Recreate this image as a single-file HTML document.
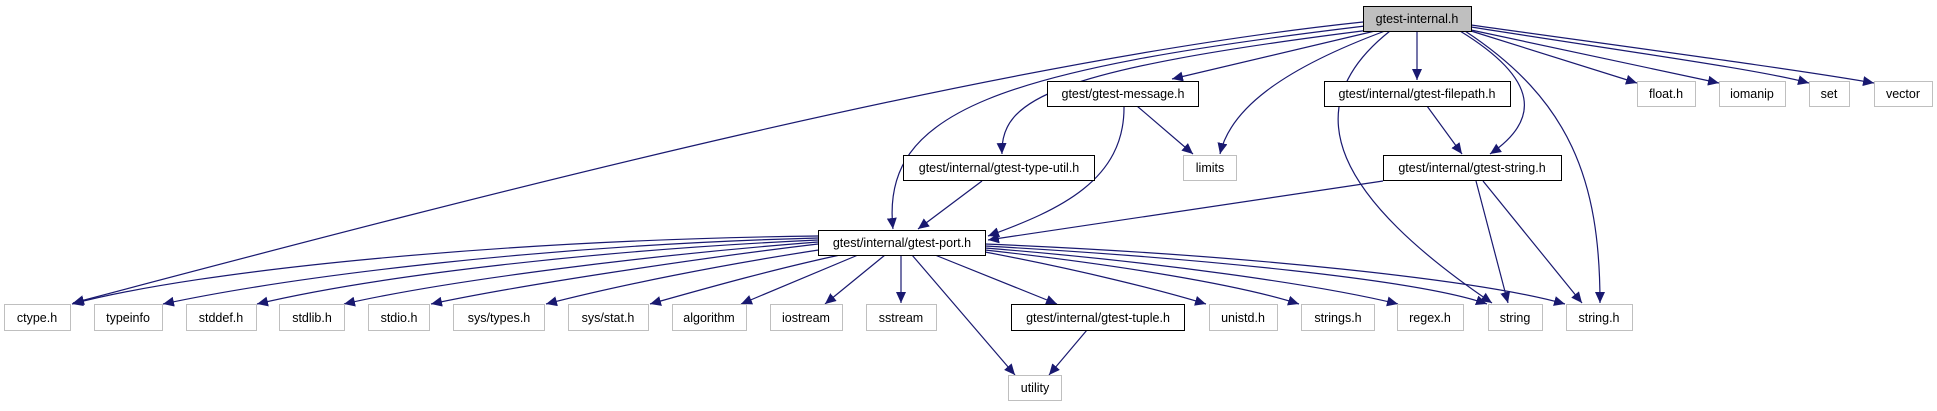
<!DOCTYPE html>
<html><head><meta charset="utf-8"><style>
html,body{margin:0;padding:0;background:#fff;width:1937px;height:411px;overflow:hidden}
text{font-family:"Liberation Sans",sans-serif;font-size:12.5px;fill:#000}
</style></head><body>
<svg width="1937" height="411" viewBox="0 0 1937 411" xmlns="http://www.w3.org/2000/svg">
<defs><marker id="a" markerUnits="userSpaceOnUse" markerWidth="12" markerHeight="10" refX="11" refY="5" orient="auto"><path d="M0,0 L11,5 L0,10 z" fill="#191970"/></marker></defs>
<g fill="none" stroke="#191970" stroke-width="1.2" marker-end="url(#a)">
<path d="M1363,22 C1000,60 500,190 73,303"/>
<path d="M1365,26 C1000,70 880,110 893,229"/>
<path d="M1370,30 C1050,70 1000,100 1002,154"/>
<path d="M1375,31 L1172,79"/>
<path d="M1385,31 C1280,70 1230,110 1220,154"/>
<path d="M1390,31 C1290,110 1340,200 1492,303"/>
<path d="M1417,31 L1417,80"/>
<path d="M1460,31 C1540,80 1540,120 1490,154"/>
<path d="M1465,31 C1570,100 1600,180 1600,303"/>
<path d="M1471,31 L1637,83"/>
<path d="M1471,30 L1719,83"/>
<path d="M1471,27 C1650,55 1760,70 1809,83"/>
<path d="M1471,25 C1650,50 1800,70 1874,83"/>
<path d="M1137,106 L1193,154"/>
<path d="M1124,106 C1125,180 1060,210 988,236"/>
<path d="M982,181 L918,229"/>
<path d="M1427,106 L1462,154"/>
<path d="M1383,181 L988,240"/>
<path d="M1476,181 L1508,303"/>
<path d="M1483,181 L1582,303"/>
<path d="M818,236 C500,240 200,270 72,304"/>
<path d="M818,238 C550,245 300,275 163,304"/>
<path d="M818,240 C600,250 380,275 257,304"/>
<path d="M818,242 C650,255 450,280 344,304"/>
<path d="M818,244 C700,258 520,285 431,304"/>
<path d="M825,249 C720,265 620,285 546,304"/>
<path d="M840,255 C770,270 700,290 650,304"/>
<path d="M858,255 L741,304"/>
<path d="M885,255 L825,304"/>
<path d="M901,255 L901,303"/>
<path d="M912,255 L1015,375"/>
<path d="M935,255 L1057,304"/>
<path d="M985,252 C1080,270 1160,290 1206,304"/>
<path d="M985,250 C1120,265 1240,285 1299,304"/>
<path d="M985,248 C1160,262 1320,285 1398,304"/>
<path d="M985,246 C1200,258 1420,280 1487,304"/>
<path d="M985,244 C1250,255 1480,280 1565,304"/>
<path d="M1087,330 L1049,375"/>
</g>
<g stroke-width="1">
<rect x="1363.5" y="6.5" width="108" height="25" fill="#bfbfbf" stroke="#000"/>
<rect x="1047.5" y="81.5" width="151" height="25" fill="#fff" stroke="#000"/>
<rect x="1324.5" y="81.5" width="186" height="25" fill="#fff" stroke="#000"/>
<rect x="1637.5" y="81.5" width="58" height="25" fill="#fff" stroke="#bfbfbf"/>
<rect x="1719.5" y="81.5" width="66" height="25" fill="#fff" stroke="#bfbfbf"/>
<rect x="1809.5" y="81.5" width="40" height="25" fill="#fff" stroke="#bfbfbf"/>
<rect x="1874.5" y="81.5" width="58" height="25" fill="#fff" stroke="#bfbfbf"/>
<rect x="903.5" y="155.5" width="191" height="25" fill="#fff" stroke="#000"/>
<rect x="1183.5" y="155.5" width="53" height="25" fill="#fff" stroke="#bfbfbf"/>
<rect x="1383.5" y="155.5" width="178" height="25" fill="#fff" stroke="#000"/>
<rect x="818.5" y="230.5" width="167" height="25" fill="#fff" stroke="#000"/>
<g fill="#fff" stroke="#bfbfbf">
<rect x="4.5" y="304.5" width="66" height="26"/>
<rect x="94.5" y="304.5" width="68" height="26"/>
<rect x="186.5" y="304.5" width="70" height="26"/>
<rect x="279.5" y="304.5" width="65" height="26"/>
<rect x="368.5" y="304.5" width="61" height="26"/>
<rect x="453.5" y="304.5" width="91" height="26"/>
<rect x="568.5" y="304.5" width="80" height="26"/>
<rect x="672.5" y="304.5" width="74" height="26"/>
<rect x="770.5" y="304.5" width="72" height="26"/>
<rect x="866.5" y="304.5" width="70" height="26"/>
<rect x="1209.5" y="304.5" width="68" height="26"/>
<rect x="1301.5" y="304.5" width="73" height="26"/>
<rect x="1397.5" y="304.5" width="66" height="26"/>
<rect x="1488.5" y="304.5" width="54" height="26"/>
<rect x="1566.5" y="304.5" width="66" height="26"/>
<rect x="1008.5" y="375.5" width="53" height="25"/>
</g>
<rect x="1011.5" y="304.5" width="173" height="26" fill="#fff" stroke="#000"/>
</g>
<g text-anchor="middle">
<text x="1417" y="23">gtest-internal.h</text>
<text x="1123" y="98">gtest/gtest-message.h</text>
<text x="1417" y="98">gtest/internal/gtest-filepath.h</text>
<text x="1666" y="98">float.h</text>
<text x="1752" y="98">iomanip</text>
<text x="1829" y="98">set</text>
<text x="1903" y="98">vector</text>
<text x="999" y="172">gtest/internal/gtest-type-util.h</text>
<text x="1210" y="172">limits</text>
<text x="1472" y="172">gtest/internal/gtest-string.h</text>
<text x="902" y="247">gtest/internal/gtest-port.h</text>
<text x="37" y="322">ctype.h</text>
<text x="128" y="322">typeinfo</text>
<text x="221" y="322">stddef.h</text>
<text x="312" y="322">stdlib.h</text>
<text x="399" y="322">stdio.h</text>
<text x="499" y="322">sys/types.h</text>
<text x="608" y="322">sys/stat.h</text>
<text x="709" y="322">algorithm</text>
<text x="806" y="322">iostream</text>
<text x="901" y="322">sstream</text>
<text x="1098" y="322">gtest/internal/gtest-tuple.h</text>
<text x="1243" y="322">unistd.h</text>
<text x="1338" y="322">strings.h</text>
<text x="1430" y="322">regex.h</text>
<text x="1515" y="322">string</text>
<text x="1599" y="322">string.h</text>
<text x="1035" y="392">utility</text>
</g>
</svg>
</body></html>
